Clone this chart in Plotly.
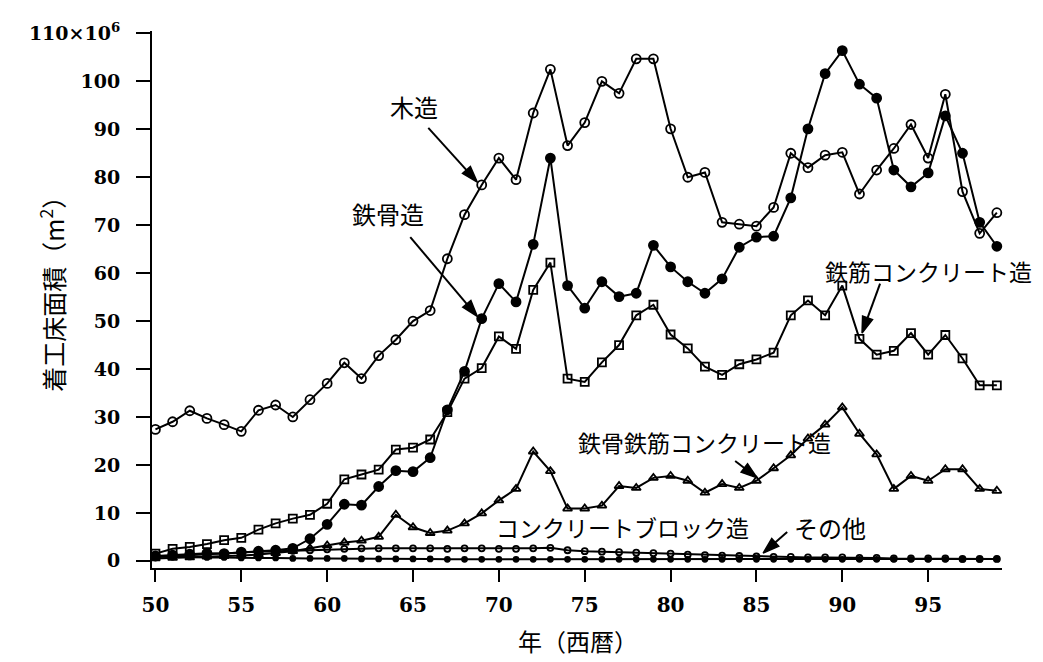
import plotly.graph_objects as go

years = list(range(1950, 2000))

wood = [27.4, 29.0, 31.3, 29.7, 28.4, 27.0, 31.4, 32.5, 30.0, 33.6,
        37.0, 41.3, 38.0, 42.8, 46.1, 50.0, 52.2, 63.0, 72.2, 78.4,
        84.0, 79.5, 93.4, 102.5, 86.6, 91.4, 100.0, 97.5, 104.7, 104.7,
        90.1, 80.0, 81.0, 70.6, 70.2, 69.8, 73.7, 85.0, 82.0, 84.6,
        85.2, 76.5, 81.5, 86.0, 91.0, 84.0, 97.3, 77.0, 68.3, 72.6]

steel = [1.0, 1.2, 1.4, 1.6, 1.5, 1.8, 2.0, 2.2, 2.6, 4.6,
         7.6, 11.8, 11.6, 15.5, 18.8, 18.6, 21.5, 31.5, 39.5, 50.5,
         57.8, 54.0, 66.0, 84.0, 57.4, 52.7, 58.2, 55.1, 55.8, 65.8,
         61.3, 58.2, 55.8, 58.8, 65.4, 67.5, 67.7, 75.7, 90.1, 101.6,
         106.4, 99.4, 96.5, 81.5, 78.0, 80.9, 92.8, 85.0, 70.6, 65.6]

rc = [1.5, 2.5, 2.9, 3.5, 4.3, 4.8, 6.5, 7.8, 8.8, 9.6,
      11.9, 17.0, 18.0, 19.0, 23.2, 23.6, 25.3, 31.0, 38.0, 40.2,
      46.8, 44.2, 56.5, 62.2, 38.0, 37.3, 41.4, 45.0, 51.2, 53.4,
      47.2, 44.3, 40.5, 38.8, 41.0, 42.0, 43.4, 51.2, 54.3, 51.2,
      57.4, 46.3, 43.0, 43.8, 47.5, 43.0, 47.1, 42.2, 36.6, 36.6]

src = [0.5, 0.6, 0.7, 0.9, 1.0, 1.1, 1.3, 1.6, 2.0, 2.6,
       3.2, 3.8, 4.2, 5.0, 9.6, 7.0, 5.8, 6.3, 7.8, 9.9,
       12.6, 15.0, 22.8, 18.7, 10.9, 10.9, 11.5, 15.6, 15.2, 17.3,
       17.7, 16.7, 14.2, 16.0, 15.2, 16.7, 19.3, 22.0, 25.5, 28.4,
       32.0, 26.5, 22.2, 15.0, 17.7, 16.7, 19.1, 19.1, 15.0, 14.6]

block = [0.8, 1.0, 1.2, 1.4, 1.5, 1.7, 1.9, 2.0, 2.1, 2.2,
         2.4, 2.5, 2.6, 2.6, 2.6, 2.6, 2.6, 2.5, 2.6, 2.6,
         2.5, 2.5, 2.6, 2.7, 2.2, 2.0, 1.9, 1.8, 1.7, 1.6,
         1.5, 1.3, 1.2, 1.1, 1.0, 0.9, 0.8, 0.8, 0.7, 0.7,
         0.7, 0.6, 0.6, 0.5, 0.5, 0.5, 0.5, 0.4, 0.4, 0.4]

other = [0.9, 0.8, 0.8, 0.7, 0.7, 0.6, 0.6, 0.6, 0.5, 0.5,
         0.5, 0.5, 0.4, 0.4, 0.4, 0.4, 0.4, 0.3, 0.3, 0.3,
         0.3, 0.3, 0.3, 0.3, 0.3, 0.3, 0.3, 0.3, 0.3, 0.3,
         0.3, 0.3, 0.3, 0.3, 0.3, 0.3, 0.3, 0.3, 0.3, 0.3,
         0.3, 0.3, 0.3, 0.3, 0.3, 0.3, 0.3, 0.3, 0.3, 0.4]

x_tickvals = [1950, 1955, 1960, 1965, 1970, 1975, 1980, 1985, 1990, 1995]
x_ticktext = ["50", "55", "60", "65", "70", "75", "80", "85", "90", "95"]
y_tickvals = [0, 10, 20, 30, 40, 50, 60, 70, 80, 90, 100, 110]
y_ticktext = ["0", "10", "20", "30", "40", "50", "60", "70", "80", "90", "100",
              "110×10<sup>6</sup>"]

series = [
    ("その他", other, "circle", 5),
    ("コンクリートブロック造", block, "circle-open", 6),
    ("鉄骨鉄筋コンクリート造", src, "triangle-up-open", 8),
    ("鉄筋コンクリート造", rc, "square-open", 8),
    ("鉄骨造", steel, "circle", 9),
    ("木造", wood, "circle-open", 9),
]

fig = go.Figure()
for name, vals, sym, size in series:
    fig.add_trace(go.Scatter(
        x=years, y=vals, name=name, mode="lines+markers",
        line=dict(color="black", width=2),
        marker=dict(symbol=sym, size=size, color="black",
                    line=dict(color="black", width=1.8)),
        showlegend=False, cliponaxis=False,
    ))

jp = "Noto Sans CJK JP"

# series labels (text centre in data units)
labels = [
    ("木造", 1965.08, 94.8, 24),
    ("鉄骨造", 1963.56, 72.4, 24),
    ("鉄筋コンクリート造", 1995.0, 60.4, 23),
    ("鉄骨鉄筋コンクリート造", 1982.0, 24.7, 23),
    ("コンクリートブロック造", 1977.18, 7.0, 23),
    ("その他", 1989.29, 7.0, 24),
]
for text, lx, ly, size in labels:
    fig.add_annotation(text=text, x=lx, y=ly, xref="x", yref="y", showarrow=False,
                       font=dict(family=jp, size=size, color="black"))

# leader arrows (tail -> head, in data units)
arrows = [
    (1965.89, 90.3, 1968.74, 79.0),
    (1964.84, 67.5, 1968.74, 51.0),
    (1992.2, 57.8, 1991.15, 47.5),
    (1983.76, 20.8, 1985.04, 17.3),
    (1986.79, 6.0, 1985.39, 1.6),
]
for tx, ty, hx, hy in arrows:
    fig.add_trace(go.Scatter(
        x=[tx, hx], y=[ty, hy], mode="lines+markers",
        line=dict(color="black", width=2),
        marker=dict(symbol="arrow", size=[0, 17], angleref="previous",
                    color="black", opacity=1,
                    line=dict(color="black", width=1.5)),
        showlegend=False, hoverinfo="skip", cliponaxis=False,
    ))

# axis titles
fig.add_annotation(text="着工床面積（m<sup>2</sup>）", xref="paper", yref="paper",
                   x=-0.1176, y=0.522, xanchor="center", yanchor="middle",
                   textangle=-90, showarrow=False,
                   font=dict(family=jp, size=25, color="black"))
fig.add_annotation(text="年（西暦）", xref="paper", yref="paper",
                   x=0.501, y=-0.135, xanchor="center", yanchor="middle",
                   showarrow=False, font=dict(family=jp, size=24, color="black"))

fig.update_layout(
    width=1035, height=654,
    margin=dict(l=144, r=41, t=17, b=94),
    paper_bgcolor="white", plot_bgcolor="white",
    font=dict(family="DejaVu Serif", color="black"),
)
fig.update_xaxes(
    range=[1949.8, 1999.3], showgrid=False, zeroline=False,
    showline=True, linecolor="black", linewidth=2,
    ticks="outside", ticklen=12, tickwidth=2, tickcolor="black",
    tickvals=x_tickvals, ticktext=x_ticktext, ticklabelstandoff=6,
    tickfont=dict(family="DejaVu Serif", size=20, color="black", weight="bold"),
)
fig.update_yaxes(
    range=[-1.5, 110.5], showgrid=False, zeroline=False,
    showline=True, linecolor="black", linewidth=2,
    ticks="outside", ticklen=14, tickwidth=2, tickcolor="black",
    tickvals=y_tickvals, ticktext=y_ticktext, ticklabelstandoff=12,
    tickfont=dict(family="DejaVu Serif", size=19, color="black", weight="bold"),
)

fig.write_html("out.html")
